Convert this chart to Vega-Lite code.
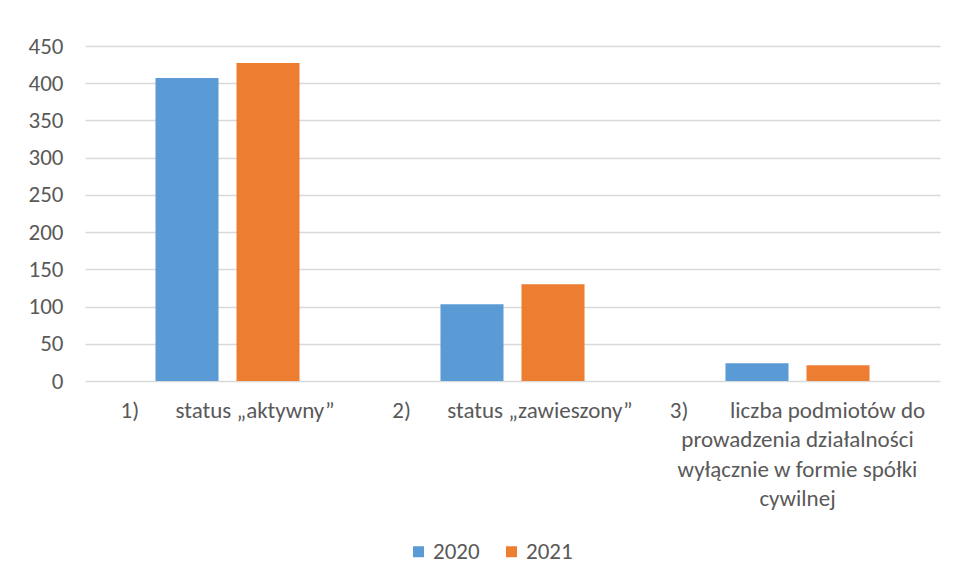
{
  "$schema": "https://vega.github.io/schema/vega-lite/v6.json",
  "autosize": "none",
  "width": 855,
  "height": 335,
  "padding": {"left": 85, "top": 46, "right": 14, "bottom": 202},
  "background": "white",
  "config": {"font": "Carlito, Lato, sans-serif", "view": {"stroke": null}},
  "data": {"values": [
    {"cat": "1)\u00a0\u00a0\u00a0\u00a0\u00a0\u00a0\u00a0status „aktywny”", "year": "2020", "value": 407},
    {"cat": "1)\u00a0\u00a0\u00a0\u00a0\u00a0\u00a0\u00a0status „aktywny”", "year": "2021", "value": 427},
    {"cat": "2)\u00a0\u00a0\u00a0\u00a0\u00a0\u00a0\u00a0status „zawieszony”", "year": "2020", "value": 103},
    {"cat": "2)\u00a0\u00a0\u00a0\u00a0\u00a0\u00a0\u00a0status „zawieszony”", "year": "2021", "value": 130},
    {"cat": "3)\u00a0\u00a0\u00a0\u00a0\u00a0\u00a0\u00a0\u00a0liczba podmiotów do|prowadzenia działalności|wyłącznie w formie spółki|cywilnej", "year": "2020", "value": 24},
    {"cat": "3)\u00a0\u00a0\u00a0\u00a0\u00a0\u00a0\u00a0\u00a0liczba podmiotów do|prowadzenia działalności|wyłącznie w formie spółki|cywilnej", "year": "2021", "value": 21}
  ]},
  "mark": {"type": "bar"},
  "encoding": {
    "x": {"field": "cat", "type": "nominal", "sort": null,
      "scale": {"paddingInner": 0, "paddingOuter": 0},
      "axis": {"title": null, "labelAngle": 0, "domain": false, "ticks": false,
        "labelExpr": "split(datum.label, '|')", "labelFontSize": 23, "labelColor": "#595959",
        "labelPadding": 18, "labelLineHeight": 29.5, "labelLimit": 0, "labelBaseline": "top"}},
    "xOffset": {"field": "year", "type": "nominal", "scale": {"paddingInner": 0.222, "paddingOuter": 0.87}},
    "y": {"field": "value", "type": "quantitative", "scale": {"domain": [0, 450], "nice": false},
      "axis": {"title": null, "values": [0, 50, 100, 150, 200, 250, 300, 350, 400, 450],
        "domain": false, "ticks": false, "gridColor": "#d9d9d9", "gridWidth": 1.3,
        "labelFontSize": 23, "labelColor": "#595959", "labelPadding": 22}},
    "color": {"field": "year", "type": "nominal",
      "scale": {"domain": ["2020", "2021"], "range": ["#5b9bd5", "#ed7d31"]},
      "legend": {"title": null, "orient": "none", "legendX": 322, "legendY": 494, "direction": "horizontal",
        "symbolType": "square", "symbolSize": 121, "symbolStrokeWidth": 0,
        "labelFontSize": 23, "labelColor": "#595959", "columnPadding": 20, "labelOffset": 3}}
  }
}
